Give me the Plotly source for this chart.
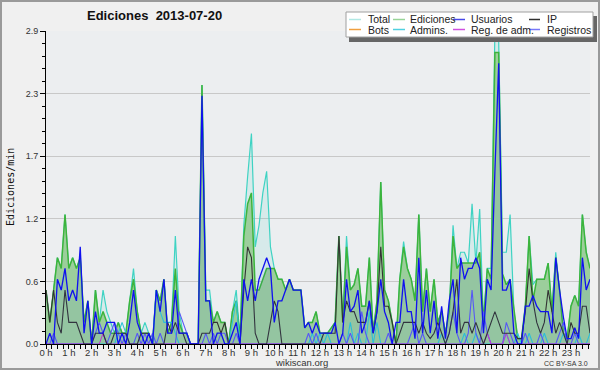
import plotly.graph_objects as go

# ---- data: 144 ten-minute slots, edits per minute ----
slots = list(range(144))
hour_labels = [f"{h} h" for h in range(24)]
y_tick_labels = ["0.0", "0.6", "1.2", "1.7", "2.3", "2.9"]

ediciones = [0.5, 0.2, 0.5, 0.8, 0.7, 1.2, 0.7, 0.8, 0.7, 0.8, 0.2, 0.4,
             0.0, 0.5, 0.2, 0.3, 0.2, 0.1, 0.1, 0.2, 0.1, 0.1, 0.4, 0.6,
             0.3, 0.1, 0.1, 0.1, 0.0, 0.5, 0.4, 0.6, 0.1, 0.2, 0.7, 0.2,
             0.1, 0.1, 0.0, 0.0, 0.0, 2.4, 0.4, 0.4, 0.2, 0.3, 0.2, 0.2,
             0.0, 0.3, 0.4, 0.05, 1.0, 1.3, 1.4, 0.5, 0.5, 0.6, 0.7, 0.7,
             0.7, 0.6, 0.6, 0.5, 0.6, 0.5, 0.5, 0.5, 0.15, 0.2, 0.2, 0.3,
             0.1, 0.1, 0.1, 0.15, 0.2, 1.0, 0.2, 0.9, 0.5, 0.55, 0.7, 0.35,
             0.35, 0.8, 0.1, 0.4, 1.5, 0.5, 0.4, 0.2, 0.0, 0.6, 0.9, 0.7,
             0.6, 0.4, 1.2, 0.3, 0.7, 0.3, 0.6, 0.2, 0.3, 0.1, 0.3, 1.0,
             0.7, 0.75, 0.75, 0.75, 0.75, 0.75, 0.85, 0.2, 0.7, 0.6, 2.7, 2.7,
             0.65, 0.55, 0.6, 0.3, 0.05, 0.05, 0.35, 1.0, 0.4, 0.6, 0.6, 0.6,
             0.75, 0.3, 0.8, 0.5, 0.1, 0.05, 0.35, 0.45, 0.35, 1.2, 0.85, 0.7]

total = [0.5, 0.2, 0.5, 0.8, 0.7, 1.2, 0.7, 0.8, 0.7, 0.8, 0.2, 0.4,
         0.0, 0.5, 0.2, 0.5, 0.3, 0.2, 0.1, 0.2, 0.1, 0.1, 0.4, 0.7,
         0.3, 0.1, 0.2, 0.1, 0.0, 0.5, 0.4, 0.6, 0.1, 0.2, 1.0, 0.3,
         0.1, 0.1, 0.0, 0.0, 0.0, 2.4, 0.5, 0.5, 0.2, 0.3, 0.2, 0.2,
         0.0, 0.3, 0.5, 0.05, 1.1, 1.55, 1.95, 0.9, 1.1, 1.4, 1.6, 0.9,
         0.7, 0.6, 0.6, 0.5, 0.6, 0.5, 0.5, 0.5, 0.15, 0.2, 0.2, 0.3,
         0.1, 0.1, 0.1, 0.15, 0.2, 1.0, 0.2, 1.0, 0.5, 0.55, 0.7, 0.35,
         0.35, 0.8, 0.1, 0.4, 1.5, 0.5, 0.4, 0.2, 0.0, 0.6, 0.95, 0.7,
         0.6, 0.4, 1.2, 0.3, 0.7, 0.3, 0.6, 0.2, 0.3, 0.1, 0.3, 1.1,
         0.7, 0.85, 0.85, 0.75, 1.3, 0.75, 1.25, 0.2, 0.7, 0.7, 2.9, 2.8,
         0.85, 0.85, 1.2, 0.3, 0.05, 0.05, 0.35, 1.0, 0.55, 0.6, 0.6, 0.6,
         0.75, 0.3, 0.85, 0.5, 0.1, 0.05, 0.35, 0.45, 0.35, 1.2, 0.85, 0.7]

usuarios = [0.0, 0.1, 0.0, 0.6, 0.5, 0.7, 0.4, 0.5, 0.4, 0.9, 0.1, 0.4,
            0.0, 0.3, 0.1, 0.1, 0.2, 0.2, 0.2, 0.0, 0.1, 0.0, 0.2, 0.5,
            0.2, 0.1, 0.0, 0.1, 0.0, 0.5, 0.3, 0.6, 0.1, 0.1, 0.5, 0.1,
            0.1, 0.1, 0.0, 0.0, 0.0, 2.3, 0.4, 0.4, 0.0, 0.1, 0.1, 0.0,
            0.0, 0.1, 0.2, 0.0, 0.6, 0.4, 0.6, 0.4, 0.6, 0.7, 0.8, 0.7,
            0.2, 0.4, 0.4, 0.5, 0.6, 0.5, 0.5, 0.5, 0.15, 0.2, 0.1, 0.2,
            0.1, 0.1, 0.1, 0.1, 0.2, 0.0, 0.1, 0.6, 0.3, 0.35, 0.5, 0.1,
            0.2, 0.4, 0.1, 0.3, 0.6, 0.3, 0.2, 0.0, 0.2, 0.2, 0.6, 0.3,
            0.3, 0.05, 0.8, 0.1, 0.5, 0.1, 0.4, 0.05, 0.35, 0.05, 0.4, 0.6,
            0.1, 0.8, 0.6, 0.7, 0.7, 0.8, 0.7, 0.1, 0.6, 0.5, 1.6, 2.6,
            0.5, 0.5, 0.6, 0.1, 0.0, 0.0, 0.35, 0.35, 0.45, 0.35, 0.3, 0.3,
            0.3, 0.1, 0.8, 0.5, 0.25, 0.05, 0.05, 0.15, 0.05, 0.8, 0.5, 0.6]

ip = [0.5, 0.2, 0.5, 0.2, 0.1, 0.5, 0.2, 0.2, 0.2, 0.1, 0.0, 0.0,
      0.0, 0.1, 0.1, 0.1, 0.0, 0.0, 0.1, 0.1, 0.1, 0.1, 0.0, 0.0,
      0.0, 0.1, 0.1, 0.1, 0.0, 0.0, 0.0, 0.0, 0.2, 0.1, 0.2, 0.1,
      0.1, 0.0, 0.0, 0.0, 0.0, 0.1, 0.1, 0.1, 0.2, 0.2, 0.1, 0.2,
      0.0, 0.0, 0.0, 0.0, 0.5, 0.9, 0.8, 0.1, 0.0, 0.0, 0.0, 0.2,
      0.4, 0.3, 0.0, 0.0, 0.0, 0.0, 0.0, 0.0, 0.0, 0.0, 0.0, 0.0,
      0.0, 0.1, 0.1, 0.1, 0.1, 1.0, 0.2, 0.4, 0.3, 0.3, 0.2, 0.2,
      0.2, 0.4, 0.1, 0.3, 0.9, 0.35, 0.35, 0.2, 0.0, 0.1, 0.2, 0.2,
      0.2, 0.2, 0.1, 0.2, 0.1, 0.05, 0.1, 0.2, 0.1, 0.0, 0.1, 0.3,
      0.6, 0.1, 0.2, 0.2, 0.1, 0.2, 0.1, 0.0, 0.1, 0.2, 0.3, 0.2,
      0.1, 0.1, 0.1, 0.1, 0.05, 0.05, 0.3, 0.7, 0.4, 0.2, 0.1, 0.2,
      0.5, 0.3, 0.1, 0.2, 0.1, 0.0, 0.2, 0.1, 0.1, 0.35, 0.35, 0.1]

admins = [0.0, 0.0, 0.0, 0.0, 0.0, 0.0, 0.0, 0.0, 0.0, 0.0, 0.0, 0.0,
          0.0, 0.0, 0.0, 0.0, 0.0, 0.0, 0.0, 0.1, 0.2, 0.1, 0.0, 0.0,
          0.0, 0.0, 0.0, 0.0, 0.0, 0.5, 0.3, 0.2, 0.2, 0.2, 0.1, 0.0,
          0.0, 0.0, 0.0, 0.0, 0.0, 0.0, 0.0, 0.0, 0.0, 0.0, 0.0, 0.0,
          0.0, 0.2, 0.4, 0.0, 0.0, 0.0, 0.0, 0.0, 0.0, 0.0, 0.0, 0.0,
          0.0, 0.0, 0.0, 0.0, 0.0, 0.0, 0.0, 0.0, 0.0, 0.0, 0.1, 0.0,
          0.1, 0.0, 0.1, 0.0, 0.0, 0.0, 0.0, 0.0, 0.2, 0.0, 0.1, 0.0,
          0.0, 0.3, 0.0, 0.2, 0.0, 0.0, 0.0, 0.0, 0.0, 0.0, 0.0, 0.0,
          0.0, 0.0, 0.0, 0.0, 0.0, 0.0, 0.0, 0.0, 0.1, 0.0, 0.0, 0.0,
          0.0, 0.0, 0.1, 0.0, 0.0, 0.1, 0.0, 0.0, 0.0, 0.0, 0.0, 0.0,
          0.0, 0.1, 0.0, 0.0, 0.1, 0.0, 0.0, 0.1, 0.0, 0.0, 0.0, 0.1,
          0.0, 0.0, 0.0, 0.0, 0.1, 0.0, 0.0, 0.0, 0.1, 0.0, 0.0, 0.1]

registros = [0.0, 0.0, 0.1, 0.0, 0.0, 0.0, 0.0, 0.0, 0.0, 0.0, 0.0, 0.0,
             0.0, 0.1, 0.2, 0.1, 0.0, 0.1, 0.2, 0.1, 0.0, 0.1, 0.0, 0.0,
             0.1, 0.0, 0.1, 0.0, 0.1, 0.0, 0.1, 0.0, 0.0, 0.0, 0.0, 0.3,
             0.2, 0.1, 0.0, 0.0, 0.0, 0.0, 0.1, 0.0, 0.1, 0.0, 0.1, 0.1,
             0.0, 0.0, 0.1, 0.0, 0.0, 0.0, 0.0, 0.0, 0.0, 0.0, 0.0, 0.0,
             0.0, 0.0, 0.0, 0.0, 0.0, 0.0, 0.0, 0.0, 0.0, 0.1, 0.0, 0.1,
             0.0, 0.0, 0.0, 0.0, 0.0, 0.0, 0.1, 0.0, 0.1, 0.0, 0.0, 0.3,
             0.1, 0.0, 0.0, 0.0, 0.0, 0.0, 0.1, 0.0, 0.0, 0.0, 0.0, 0.0,
             0.1, 0.2, 0.0, 0.1, 0.0, 0.0, 0.0, 0.0, 0.0, 0.0, 0.1, 0.3,
             0.1, 0.0, 0.0, 0.1, 0.5, 0.1, 0.0, 0.3, 0.1, 0.0, 0.0, 0.0,
             0.0, 0.2, 0.1, 0.0, 0.0, 0.0, 0.1, 0.0, 0.0, 0.0, 0.1, 0.0,
             0.0, 0.0, 0.0, 0.1, 0.2, 0.0, 0.0, 0.1, 0.0, 0.0, 0.0, 0.0]

reg_adm = [0.0] * 15 + [0.1] + [0.0] * 100 + [0.1, 0.0, 0.0, 0.0, 0.0, 0.1] + [0.0] * 22

bots = [0.0] * 144

# ---- geometry helpers (layout only) ----
W, H = 600, 370
ML, MR, MT, MB = 46, 10, 31, 26
PW, PH = W - ML - MR, H - MT - MB


def px(x):
    return (x - ML) / PW


def py(y):
    return (H - MB - y) / PH


hours = [s / 6 for s in slots]

fig = go.Figure()


def line(name, ys, color, width, fill=None, fillcolor=None):
    fig.add_trace(go.Scatter(
        x=hours, y=ys, name=name, mode="lines",
        line=dict(color=color, width=width),
        fill=fill, fillcolor=fillcolor, showlegend=False, hoverinfo="skip"))


line("Bots", bots, "#f0a030", 1)
line("Total", total, "#3fd3c3", 1.2, "tozeroy", "rgba(64,208,200,0.12)")
line("Ediciones", ediciones, "#3cb43c", 1.5, "tozeroy", "rgb(156,206,156)")
line("Admins.", admins, "#2ec6d6", 1.1)
line("Registros", registros, "#5a5af5", 1.1)
line("Reg. de adm.", reg_adm, "#cc33cc", 1.0)
line("IP", ip, "#333333", 1.1)
line("Usuarios", usuarios, "#1010f0", 1.3, "tozeroy", "rgba(30,60,255,0.06)")

y_ticks = [i * 0.58 for i in range(6)]
y_minor = [i * 0.116 for i in range(26)]

fig.update_layout(
    width=W, height=H,
    margin=dict(l=ML, r=MR, t=MT, b=MB),
    paper_bgcolor="#f0f0f0",
    plot_bgcolor="#eceef0",
    showlegend=False,
    xaxis=dict(
        range=[0, 143 / 6], tickmode="array", tickvals=list(range(24)),
        ticktext=hour_labels, ticks="outside", ticklen=4, tickcolor="black",
        showline=True, linecolor="black", linewidth=1, showgrid=False,
        zeroline=False, ticklabelstandoff=-4,
        tickfont=dict(family="Liberation Sans", size=9.5, color="#333"),
        minor=dict(dtick=0.25, tick0=0, ticks="outside", ticklen=4,
                   tickcolor="black", showgrid=False),
    ),
    yaxis=dict(
        range=[0, 2.9], tickmode="array", tickvals=y_ticks,
        ticktext=y_tick_labels, ticks="outside", ticklen=5,
        tickcolor="black", showline=True, linecolor="black", linewidth=1,
        showgrid=True, gridcolor="#c8c8c8", gridwidth=1, zeroline=False,
        tickfont=dict(family="Liberation Sans", size=9, color="#333"),
        minor=dict(tickmode="array", tickvals=y_minor, ticks="outside",
                   ticklen=3, tickcolor="black", showgrid=False),
    ),
)

# frame around the whole picture
fig.add_shape(type="rect", xref="paper", yref="paper",
              x0=px(1), x1=px(599), y0=py(369), y1=py(1),
              line=dict(color="#9a9a9a", width=2), fillcolor="rgba(0,0,0,0)",
              layer="above")

# title, axis title, footer
fig.add_annotation(text="<b>Ediciones  2013-07-20</b>", xref="paper", yref="paper",
                   x=px(85), y=py(16), xanchor="left", yanchor="middle",
                   showarrow=False,
                   font=dict(family="Liberation Sans", size=13, color="#111"))
fig.add_annotation(text="Ediciones/min", xref="paper", yref="paper",
                   x=px(10), y=py(187), xanchor="center", yanchor="middle",
                   textangle=-90, showarrow=False,
                   font=dict(family="DejaVu Sans Mono", size=10, color="#111"))
fig.add_annotation(text="wikiscan.org", xref="paper", yref="paper",
                   x=px(301), y=py(362.5), xanchor="center", yanchor="middle",
                   showarrow=False,
                   font=dict(family="Liberation Sans", size=9.5, color="#333"))
fig.add_annotation(text="CC BY-SA 3.0", xref="paper", yref="paper",
                   x=px(590), y=py(363.5), xanchor="right", yanchor="middle",
                   showarrow=False,
                   font=dict(family="Liberation Sans", size=7, color="#333"))

# legend box (drawn by hand to match the compact layout)
fig.add_shape(type="rect", xref="paper", yref="paper",
              x0=px(349), x1=px(597), y0=py(42), y1=py(16),
              line=dict(width=0), fillcolor="#666666", layer="above")
fig.add_shape(type="rect", xref="paper", yref="paper",
              x0=px(346), x1=px(593), y0=py(37), y1=py(12),
              line=dict(color="#a0a0a0", width=1), fillcolor="#ffffff",
              layer="above")

legend_names = ["Total", "Ediciones", "Usuarios", "IP",
                "Bots", "Admins.", "Reg. de adm.", "Registros"]
legend_colors = ["#b0e8e4", "#98d498", "#4848e8", "#303030",
                 "#f0a040", "#50d0e0", "#d050e0", "#7878f8"]
col_sample = [(349, 361, 366), (393, 405, 408), (453, 465, 469), (529, 540, 545)]
row_y = [19.5, 29.5]
for k, (nm, col) in enumerate(zip(legend_names, legend_colors)):
    r, c = divmod(k, 4)
    x0, x1, xt = col_sample[c]
    yy = row_y[r]
    fig.add_shape(type="line", xref="paper", yref="paper",
                  x0=px(x0), x1=px(x1), y0=py(yy), y1=py(yy),
                  line=dict(color=col, width=1.5), layer="above")
    fig.add_annotation(text=nm, xref="paper", yref="paper",
                       x=px(xt), y=py(yy), xanchor="left", yanchor="middle",
                       showarrow=False,
                       font=dict(family="Liberation Sans", size=10.5, color="#222"))

fig.write_html("out.html",
               config={"displayModeBar": False},
               post_script="document.body.style.margin='0';"
                           "document.body.style.overflow='hidden';")
